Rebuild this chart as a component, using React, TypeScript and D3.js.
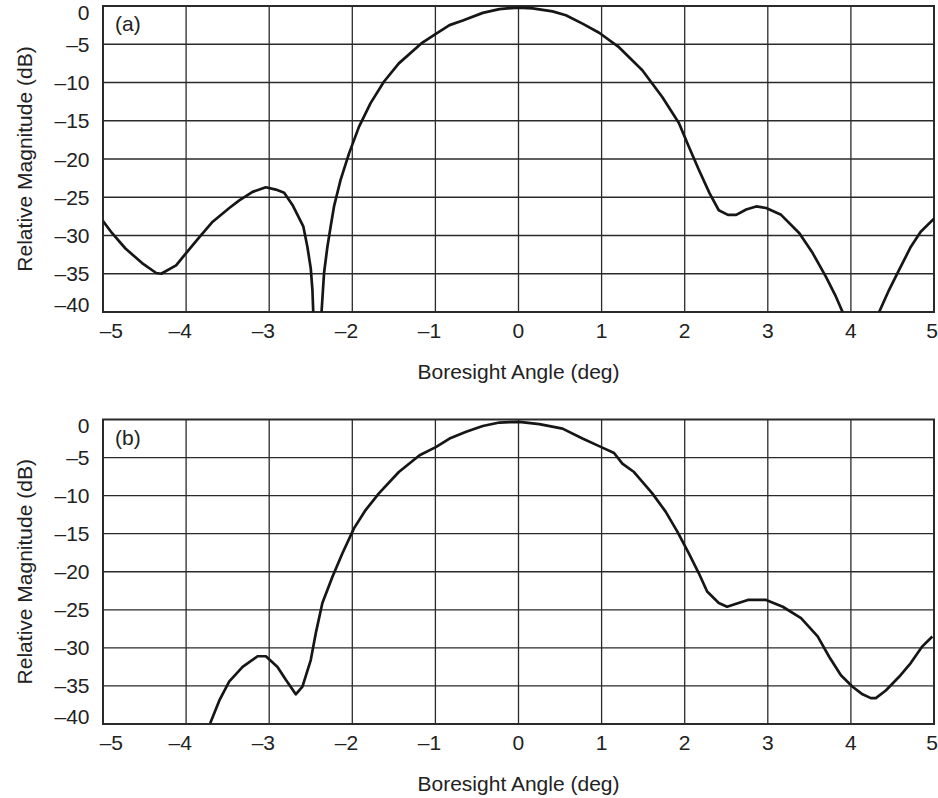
import React from 'react';
import * as d3 from 'd3';

// tick values
const xTicks = [-5, -4, -3, -2, -1, 0, 1, 2, 3, 4, 5];
const yTicks = [0, -5, -10, -15, -20, -25, -30, -35, -40];

// panel (a): boresight angle (deg) / relative magnitude (dB)
const angleA = [-5, -4.89, -4.73, -4.53, -4.36, -4.3, -4.12, -4.0, -3.84, -3.68, -3.48, -3.36, -3.2, -3.04, -2.92, -2.82, -2.72, -2.59, -2.54, -2.5, -2.48, -2.47, -2.42,
  -2.37, -2.34, -2.3, -2.26, -2.22, -2.14, -2.04, -1.92, -1.78, -1.62, -1.44, -1.17, -0.99, -0.83, -0.67, -0.43, -0.23, 0, 0.17, 0.41, 0.57, 0.77, 0.97,
  1.2, 1.49, 1.73, 1.93, 2.05, 2.17, 2.3, 2.41, 2.52, 2.62, 2.74, 2.86, 2.98, 3.16, 3.38, 3.54, 3.7, 3.82, 3.9, 4.12,
  4.34, 4.46, 4.58, 4.72, 4.84, 5];
const magA = [-28.1, -29.7, -31.7, -33.6, -34.9, -35.0, -33.9, -32.3, -30.2, -28.2, -26.4, -25.4, -24.3, -23.7, -24.0, -24.4, -26.0, -28.8, -31.5, -34.3, -37.1, -40, -48,
  -40, -34.9, -31.5, -28.8, -26.2, -22.7, -19.3, -15.8, -12.7, -9.9, -7.5, -4.9, -3.6, -2.5, -1.9, -0.9, -0.4, -0.2, -0.3, -0.7, -1.2, -2.3, -3.5,
  -5.3, -8.4, -11.9, -15.3, -18.4, -21.4, -24.5, -26.7, -27.3, -27.3, -26.6, -26.2, -26.4, -27.3, -29.7, -32.3, -35.4, -38.0, -40, -52,
  -40, -37.1, -34.5, -31.5, -29.5, -27.8];

// panel (b)
const angleB = [-3.71, -3.6, -3.48, -3.32, -3.14, -3.04, -2.9, -2.8, -2.68, -2.6, -2.5, -2.44, -2.36, -2.24, -2.12, -1.98, -1.84, -1.68, -1.44, -1.19, -0.99, -0.83, -0.63, -0.43, -0.23, 0.01, 0.25, 0.53, 0.77, 0.97,
  1.15, 1.25, 1.39, 1.61, 1.77, 1.91, 2.05, 2.17, 2.27, 2.41, 2.51, 2.62, 2.76, 2.98, 3.18, 3.4, 3.6, 3.74, 3.88, 4.02, 4.14, 4.24, 4.3, 4.42, 4.58, 4.72, 4.86, 4.98];
const magB = [-39.9, -36.9, -34.4, -32.5, -31.1, -31.1, -32.5, -34.2, -36.1, -35.1, -31.6, -28.1, -24.1, -20.7, -17.6, -14.3, -11.9, -9.7, -6.9, -4.7, -3.6, -2.5, -1.6, -0.85, -0.4, -0.3, -0.6, -1.2, -2.5, -3.5,
  -4.4, -5.8, -6.9, -9.7, -12.1, -14.7, -17.6, -20.2, -22.6, -24.1, -24.6, -24.2, -23.7, -23.7, -24.6, -26.1, -28.5, -31.2, -33.6, -35.1, -36.1, -36.6, -36.6, -35.6, -33.8, -32.0, -29.8, -28.5];

const FONT = '"Liberation Sans", Arial, Helvetica, sans-serif';
const FS = 21;
const left = 103;
const right = 934;

const Panel = ({ top, bottom, label, angles, mags, id }) => {
  const x = d3.scaleLinear().domain([-5, 5]).range([left, right]);
  const y = d3.scaleLinear().domain([0, -40]).range([top, bottom]);
  const pts = angles.map((a, i) => [a, mags[i]]);
  const line = d3.line().x(d => x(d[0])).y(d => y(d[1]));

  return (
    <g>
      <defs>
        <clipPath id={id}>
          <rect x={left} y={top} width={right - left} height={bottom - top} />
        </clipPath>
      </defs>
      {/* grid */}
      {xTicks.slice(1, -1).map(t => (
        <line key={'gx' + t} x1={x(t)} x2={x(t)} y1={top} y2={bottom} stroke="#2a2a2a" strokeWidth={1.3} />
      ))}
      {yTicks.slice(1, -1).map(t => (
        <line key={'gy' + t} x1={left} x2={right} y1={y(t)} y2={y(t)} stroke="#2a2a2a" strokeWidth={1.3} />
      ))}
      <rect x={left} y={top} width={right - left} height={bottom - top} fill="none" stroke="#2a2a2a" strokeWidth={2} />
      <path d={line(pts)} fill="none" stroke="#161616" strokeWidth={2.7} strokeLinejoin="round" clipPath={`url(#${id})`} />
      {/* y tick labels */}
      {yTicks.map(t => {
        let yy = y(t) + 7.5;
        if (t === 0) yy = top + 13.5;
        if (t === -40) yy = bottom;
        return (
          <text key={'ty' + t} x={89.5} y={yy} textAnchor="end" fontSize={FS} fill="#222">
            {t === 0 ? '0' : '\u2013' + Math.abs(t)}
          </text>
        );
      })}
      {/* x tick labels: digit centred on tick */}
      {xTicks.map(t => {
        let xx = x(t) + 5.8;
        if (t === -5) xx = x(t) + 20;
        if (t === 5) xx = 938;
        return (
          <text key={'tx' + t} x={xx} y={bottom + 25.5} textAnchor="end" fontSize={FS} fill="#222">
            {t < 0 ? '\u2013' + Math.abs(t) : String(t)}
          </text>
        );
      })}
      <text x={115} y={top + 25} fontSize={FS} fill="#222">{label}</text>
      <text x={(left + right) / 2} y={bottom + 66.5} textAnchor="middle" fontSize={FS} fill="#222">
        Boresight Angle (deg)
      </text>
      <text transform={`translate(32,${(top + bottom) / 2}) rotate(-90)`} textAnchor="middle" fontSize={FS} fill="#222">
        Relative Magnitude (dB)
      </text>
    </g>
  );
};

export default function App() {
  return (
    <svg width={938} height={798} style={{ position: 'absolute', left: 0, top: 0, background: '#fff', fontFamily: FONT }}>
      <Panel top={6} bottom={312} label="(a)" angles={angleA} mags={magA} id="clipA" />
      <Panel top={419.5} bottom={724} label="(b)" angles={angleB} mags={magB} id="clipB" />
    </svg>
  );
}
